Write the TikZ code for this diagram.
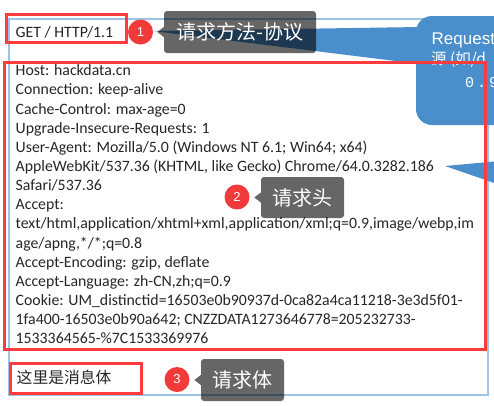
\documentclass[tikz,border=0pt]{standalone}
\usepackage{fontspec}
\setmainfont{Carlito}
\newfontfamily\cjk{Noto Sans CJK SC}
\newfontfamily\lsans{Liberation Sans}
\newfontfamily\lmono{Liberation Mono}
\definecolor{outerc}{HTML}{9DC3E6}
\definecolor{calloutc}{HTML}{4A8FCB}
\definecolor{redc}{HTML}{F23A3A}
\definecolor{boxred}{HTML}{FF3B3B}
\definecolor{textc}{HTML}{262626}
\tikzset{
  redbox/.style={draw=boxred, line width=3pt},
  hdr/.style={anchor=base west, inner sep=0pt, text=textc, font=\fontsize{15.8}{19}\selectfont},
  numdot/.style={circle, fill=redc, text=white, minimum size=25pt, inner sep=0pt, font=\lsans\fontsize{13}{13}\selectfont},
  graylab/.style={fill=black, fill opacity=0.6, text opacity=1, text=white, rounded corners=3pt, inner sep=0pt, font=\cjk\fontsize{20}{20}\selectfont},
  pointer/.style={fill=black, fill opacity=0.6},
  calltext/.style={anchor=base west, inner sep=0pt, text=white}
}
\begin{document}
\begin{tikzpicture}[x=1pt,y=-1pt]
\useasboundingbox (0,0) rectangle (494,405);
\clip (0,0) rectangle (494,405);
\fill[white] (0,0) rectangle (494,405);
% outer frame
\draw[outerc, line width=1.5pt] (9,19) rectangle (488,395);
% blue callout (clipped at right)
\fill[calloutc, rounded corners=16pt] (416,16) rectangle (580,125);
\fill[calloutc] (153,31) -- (420,27) -- (420,64) -- cycle;
\fill[calloutc] (445,166) -- (500,161) -- (500,185) -- cycle;
\node[calltext, font=\lsans\fontsize{17}{17}\selectfont] (cl1) at (431.5,44) {Request};
\node[calltext, font=\cjk\fontsize{15.5}{15.5}\selectfont] (cl2) at (431,64) {源 (如/d};
\node[calltext, font=\lmono\fontsize{15}{15}\selectfont] (cl3) at (465,87) {0\kern3pt.\kern3pt9};
% red boxes
\draw[redbox] (6.5,14.5) rectangle (126.5,42.5);
\draw[redbox] (4.5,62.5) rectangle (485.5,349);
\draw[redbox] (10.7,363.3) rectangle (141,393.5);
% texts
\node[hdr] (get) at (15.5,37.7) {GET / HTTP/1.1};
\foreach \t [count=\i] in {
 {Host: hackdata.cn},
 {Connection: keep-alive},
 {Cache-Control: max-age=0},
 {Upgrade-Insecure-Requests: 1},
 {User-Agent: Mozilla/5.0 (Windows NT 6.1; Win64; x64)},
 {AppleWebKit/537.36 (KHTML, like Gecko) Chrome/64.0.3282.186},
 {Safari/537.36},
 {Accept:},
 {text/html,application/xhtml+xml,application/xml;q=0.9,image/webp,im},
 {age/apng,*/*;q=0.8},
 {Accept-Encoding: gzip, deflate},
 {Accept-Language: zh-CN,zh;q=0.9},
 {Cookie: UM\_distinctid=16503e0b90937d-0ca82a4ca11218-3e3d5f01-},
 {1fa400-16503e0b90a642; CNZZDATA1273646778=205232733-},
 {1533364565-\%7C1533369976}}
{ \node[hdr] (h\i) at (15.5,{75.7+(\i-1)*19.16}) {\t}; }
\node[hdr, font=\cjk\fontsize{15.8}{19}\selectfont] (body) at (16.5,383) {这里是消息体};
% numbered dots
\node[numdot] (c1) at (140.5,32) {1};
\node[numdot] (c2) at (237,197) {2};
\node[numdot] (c3) at (177,379.5) {3};
% gray labels
\node[graylab, minimum width=152pt, minimum height=42pt] (l1) at (240,32) {请求方法-协议};
\node[graylab, minimum width=83pt, minimum height=41pt] (l2) at (302.5,197.5) {请求头};
\node[graylab, minimum width=83pt, minimum height=42pt] (l3) at (242.5,380) {请求体};
\foreach \n in {l1,l2,l3}
  \fill[pointer] ([yshift=-5pt]\n.west) -- ([xshift=-6.5pt]\n.west) -- ([yshift=5pt]\n.west) -- cycle;
\end{tikzpicture}
\end{document}
